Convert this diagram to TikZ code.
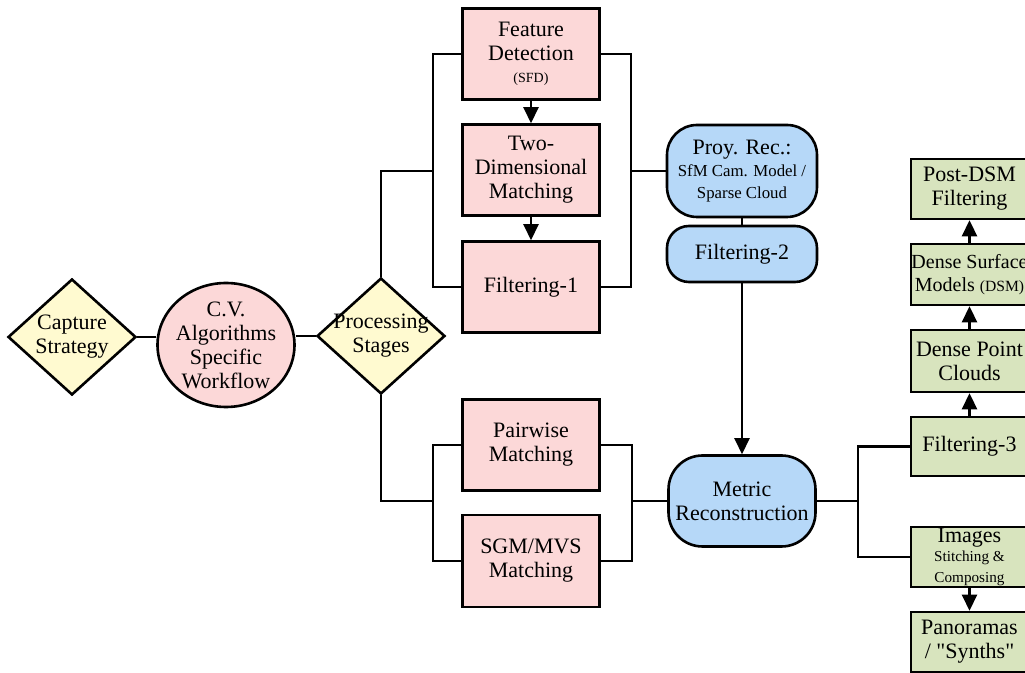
\documentclass[tikz,border=0pt]{standalone}
\usepackage{fontspec}
\setmainfont{Liberation Serif}
\usepackage{tikz}
\usetikzlibrary{arrows.meta,positioning,shapes.geometric}
\definecolor{clrPk}{RGB}{252,216,216}
\definecolor{clrBl}{RGB}{182,216,248}
\definecolor{clrGr}{RGB}{216,228,190}
\definecolor{clrYw}{RGB}{255,250,208}
\newcommand{\smtxt}[1]{\fontsize{#1}{#1}\selectfont}

\begin{document}
\begin{tikzpicture}[x=0.5pt,y=-0.5pt,line width=1.3pt,
  font=\fontsize{11}{12}\selectfont,
  dia/.style={diamond,draw,fill=clrYw,inner sep=-3pt,minimum width=64pt,minimum height=58pt,align=center},
  pk/.style={rectangle,draw,fill=clrPk,minimum width=68.5pt,minimum height=45.5pt,align=center,inner sep=0pt},
  bl/.style={rectangle,draw,fill=clrBl,minimum width=75pt,align=center,inner sep=0pt},
  gr/.style={rectangle,draw,fill=clrGr,minimum width=58.5pt,minimum height=30pt,align=center,inner sep=0pt},
  arr/.style={-{Triangle[length=8pt,width=7.5pt]}}]
  \useasboundingbox (0,0) rectangle (1025,673);
  \def\colP{531} \def\colB{742} \def\colG{969.5}

  % --- left chain ---
  \node[dia] (cap) at (72,337) {Capture\\Strategy};
  \node[ellipse,draw,fill=clrPk,inner sep=-3pt,minimum width=68.5pt,minimum height=62pt,align=center]
    (cvw) at (226,345) {C.V.\\Algorithms\\Specific\\Workflow};
  \node[dia] (proc) at (381,336) {Processing\\Stages};
  \draw (cap.east) -- (cap.east -| cvw.west);
  \draw (cvw.east |- proc.west) -- (proc.west);

  % --- pink stages ---
  \node[pk] (feat) at (\colP,54) {Feature\\Detection\\[-1pt]{\smtxt{7}(SFD)}};
  \node[pk] (twod) at (\colP,170) {Two-\\Dimensional\\Matching};
  \node[pk] (filt1) at (\colP,287) {Filtering-1};
  \node[pk] (pair) at (\colP,445) {Pairwise\\Matching};
  \node[pk,minimum height=46pt] (sgm) at (\colP,561) {SGM/MVS\\Matching};
  \draw[arr] (feat) -- (twod);
  \draw[arr] (twod) -- (filt1);

  % --- brackets ---
  \coordinate (jUL) at (433,171);
  \coordinate (jUR) at (631,171);
  \coordinate (jLL) at (433,501);
  \coordinate (jLR) at (632,501);
  \coordinate (jR) at (858,501);
  \draw (proc.north) |- (jUL);
  \draw (feat.west) -| (jUL) |- (filt1.west);
  \draw (feat.east) -| (jUR) |- (filt1.east);
  \draw (proc.south) |- (jLL);
  \draw (pair.west) -| (jLL) |- (sgm.west);
  \draw (pair.east) -| (jLR) |- (sgm.east);

  % --- blue reconstruction ---
  \node[bl,minimum height=46pt,rounded corners=15pt] (proy) at (\colB,171)
    {Proy. Rec.:\\[-1pt]{\smtxt{8.4}SfM Cam. Model /}\\[-1pt]{\smtxt{8.4}Sparse Cloud}};
  \node[bl,minimum height=28pt,rounded corners=11pt] (filt2) at (\colB,254) {Filtering-2};
  \node[bl,minimum width=73.5pt,minimum height=45.5pt,rounded corners=17pt] (metr) at (\colB,501)
    {Metric\\Reconstruction};
  \draw (jUR) -- (proy.west);
  \draw (proy) -- (filt2);
  \draw[arr] (filt2) -- (metr);
  \draw (jLR) -- (metr.west);
  \draw (metr.east) -- (jR);

  % --- green products ---
  \node[gr] (post) at (\colG,189) {Post-DSM\\Filtering};
  \node[gr,minimum height=30.5pt,font=\fontsize{10}{11.5}\selectfont] (dsm) at (\colG,274.5)
    {Dense Surface\\Models {\smtxt{7.8}(DSM)}};
  \node[gr,minimum height=31pt] (dpc) at (\colG,361) {Dense Point\\Clouds};
  \node[gr,minimum height=29.5pt] (filt3) at (\colG,446.5) {Filtering-3};
  \node[gr] (imgs) at (\colG,557) {Images\\[-2.5pt]{\smtxt{7.6}Stitching \&}\\[-1.5pt]{\smtxt{7.6}Composing}};
  \node[gr] (pano) at (\colG,642) {Panoramas\\/ \textquotedbl Synths\textquotedbl};
  \draw[arr] (filt3) -- (dpc);
  \draw[arr] (dpc) -- (dsm);
  \draw[arr] (dsm) -- (post);
  \draw[arr] (imgs) -- (pano);
  \draw (filt3.west) -| (jR) |- (imgs.west);
\end{tikzpicture}
\end{document}
